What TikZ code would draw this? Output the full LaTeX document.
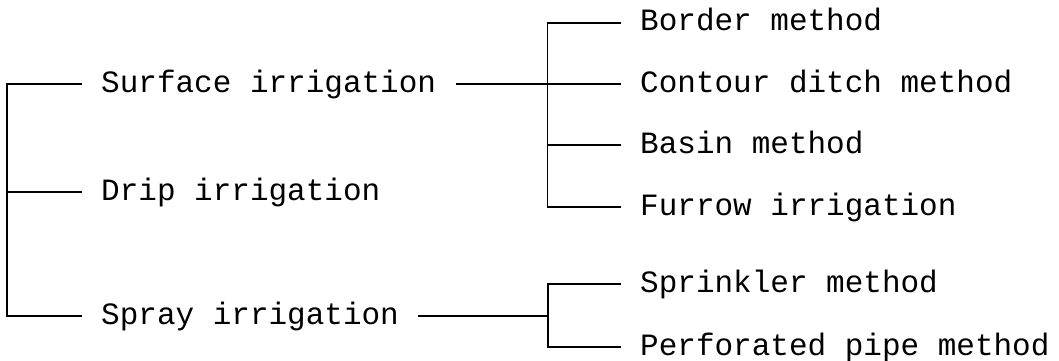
\documentclass[tikz,border=0pt]{standalone}
\usepackage{fontspec}
\newfontfamily\typewriter{Liberation Mono}
\begin{document}
\begin{tikzpicture}[x=1pt,y=-1pt,
  lbl/.style={font=\typewriter\fontsize{31}{31}\selectfont, anchor=west,
    inner xsep=20pt, inner ysep=0pt, text height=16pt, text depth=0pt},
  tree/.style={line width=1.3pt, line cap=rect}]
\useasboundingbox (0,0) rectangle (1059,361);

% first level
\node[lbl] (surf)  at (81,84)  {Surface irrigation};
\node[lbl] (drip)  at (81,192) {Drip irrigation};
\node[lbl] (spray) at (81,316) {Spray irrigation};

% surface methods
\node[lbl] (border)  at (620,23)  {Border method};
\node[lbl] (contour) at (620,84)  {Contour ditch method};
\node[lbl] (basin)   at (620,145) {Basin method};
\node[lbl] (furrow)  at (620,207) {Furrow irrigation};

% spray methods
\node[lbl] (sprink) at (620,284) {Sprinkler method};
\node[lbl] (perf)   at (620,347) {Perforated pipe method};

% bracket spines
\coordinate (L)  at (7,0);
\coordinate (RA) at (547.5,0);
\coordinate (RB) at (548,0);

% root bracket
\draw[tree] (surf.west) -- (surf.west -| L) -- (spray.west -| L) -- (spray.west);
\draw[tree] (drip.west -| L) -- (drip.west);

% surface bracket
\draw[tree] (border.west) -- (border.west -| RA) -- (furrow.west -| RA) -- (furrow.west);
\draw[tree] (surf.east) -- (contour.west);
\draw[tree] (basin.west -| RA) -- (basin.west);

% spray bracket
\draw[tree] (sprink.west) -- (sprink.west -| RB) -- (perf.west -| RB) -- (perf.west);
\draw[tree] (spray.east) -- (spray.east -| RB);
\end{tikzpicture}
\end{document}
